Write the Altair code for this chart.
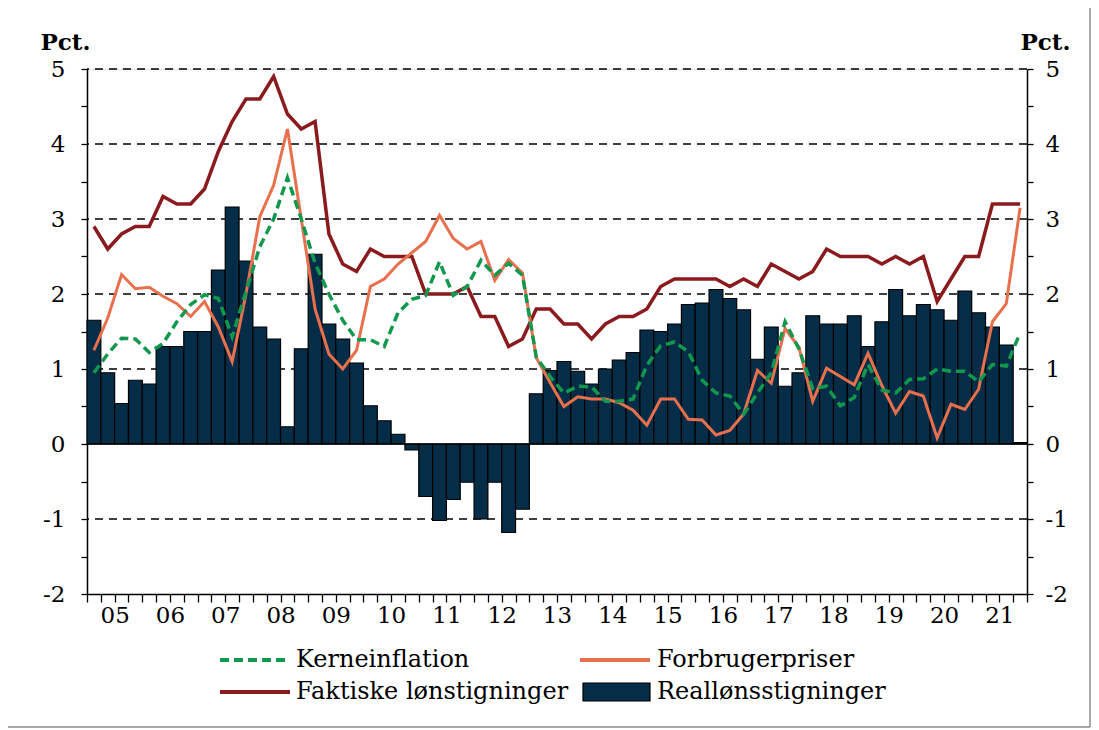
import altair as alt
import pandas as pd

# ---------------- data (2005Q1 - 2021Q4, quarterly) ----------------
years = ["05", "06", "07", "08", "09", "10", "11", "12", "13",
         "14", "15", "16", "17", "18", "19", "20", "21"]

reallon = [1.65, 0.95, 0.54, 0.85, 0.80, 1.30, 1.30, 1.50, 1.50, 2.32, 3.16, 2.44,
           1.56, 1.40, 0.23, 1.27, 2.53, 1.60, 1.40, 1.08, 0.51, 0.31, 0.13, -0.08,
           -0.70, -1.02, -0.74, -0.51, -1.00, -0.51, -1.18, -0.87, 0.67, 0.98, 1.10, 0.97,
           0.80, 1.00, 1.12, 1.22, 1.52, 1.50, 1.60, 1.86, 1.88, 2.06, 1.94, 1.79,
           1.13, 1.56, 0.77, 0.95, 1.71, 1.60, 1.60, 1.71, 1.30, 1.63, 2.06, 1.71,
           1.86, 1.79, 1.65, 2.04, 1.75, 1.56, 1.32, 0.02]

faktiske = [2.9, 2.6, 2.8, 2.9, 2.9, 3.3, 3.2, 3.2, 3.4, 3.9, 4.3, 4.6,
            4.6, 4.9, 4.4, 4.2, 4.3, 2.8, 2.4, 2.3, 2.6, 2.5, 2.5, 2.5,
            2.0, 2.0, 2.0, 2.1, 1.7, 1.7, 1.3, 1.4, 1.8, 1.8, 1.6, 1.6,
            1.4, 1.6, 1.7, 1.7, 1.8, 2.1, 2.2, 2.2, 2.2, 2.2, 2.1, 2.2,
            2.1, 2.4, 2.3, 2.2, 2.3, 2.6, 2.5, 2.5, 2.5, 2.4, 2.5, 2.4,
            2.5, 1.9, 2.2, 2.5, 2.5, 3.2, 3.2, 3.2]

forbruger = [1.25, 1.68, 2.26, 2.07, 2.09, 1.97, 1.87, 1.70, 1.90, 1.56, 1.10, 2.00,
             3.03, 3.45, 4.20, 3.00, 1.80, 1.20, 1.00, 1.25, 2.10, 2.20, 2.40, 2.55,
             2.70, 3.05, 2.74, 2.60, 2.70, 2.18, 2.46, 2.28, 1.15, 0.82, 0.50, 0.63,
             0.60, 0.60, 0.55, 0.45, 0.25, 0.60, 0.60, 0.33, 0.32, 0.12, 0.18, 0.40,
             0.98, 0.81, 1.54, 1.29, 0.57, 1.01, 0.90, 0.79, 1.21, 0.78, 0.41, 0.70,
             0.64, 0.08, 0.53, 0.46, 0.73, 1.63, 1.87, 3.15]

kerne = [0.95, 1.20, 1.41, 1.40, 1.22, 1.34, 1.63, 1.86, 1.99, 1.94, 1.43, 2.03,
         2.63, 3.00, 3.55, 3.00, 2.41, 2.00, 1.65, 1.39, 1.39, 1.30, 1.75, 1.93,
         1.98, 2.43, 1.98, 2.10, 2.45, 2.25, 2.41, 2.25, 1.16, 0.90, 0.68, 0.77,
         0.76, 0.57, 0.57, 0.60, 1.05, 1.31, 1.36, 1.23, 0.85, 0.68, 0.64, 0.40,
         0.68, 0.95, 1.63, 1.27, 0.74, 0.77, 0.51, 0.62, 1.06, 0.72, 0.68, 0.86,
         0.87, 1.00, 0.97, 0.97, 0.83, 1.06, 1.04, 1.48]

grid_values = [-1, 1, 2, 3, 4, 5]
y_tick_values = [-2 + 0.5 * k for k in range(15)]
legend_labels = ["Kerneinflation", "Forbrugerpriser",
                 "Faktiske lønstigninger", "Reallønsstigninger"]

# ---------------- styling ----------------
FONT = "DejaVu Serif"
FS = 23
LFS = 24
W, H = 940, 525
RED = "#8B1A1E"
ORANGE = "#E8704C"
GREEN = "#12984E"
NAVY = "#062D48"

n = len(reallon)
df = pd.DataFrame({
    "q": list(range(n)),
    "q_end": [i + 1 for i in range(n)],
    "q_mid": [i + 0.5 for i in range(n)],
    "real": reallon,
    "faktiske": faktiske,
    "forbruger": forbruger,
    "kerne": kerne,
})

xscale = alt.Scale(domain=[0, n], nice=False, zero=False)
yscale = alt.Scale(domain=[-2, 5], nice=False, zero=False)

years_js = "[" + ",".join("'" + y + "'" for y in years) + "]"
x_axis = alt.Axis(
    values=list(range(n + 1)),
    labelExpr=f"datum.value % 4 == 2 ? {years_js}[floor(datum.value / 4)] : ''",
    tickSize=8, tickWidth=1.3, tickColor="black",
    domainColor="black", domainWidth=1.5,
    labelFont=FONT, labelFontSize=FS, labelColor="black",
    labelOverlap=False, labelFlush=False, labelPadding=2,
    grid=False, title=None,
)

y_label_expr = "datum.value % 1 == 0 ? '' + datum.value : ''"
y_left = alt.Axis(
    values=y_tick_values, labelExpr=y_label_expr,
    tickSize=6, tickWidth=1.3, tickColor="black",
    domainColor="black", domainWidth=1.5,
    labelFont=FONT, labelFontSize=FS, labelColor="black",
    labelPadding=16, labelOverlap=False, labelFlush=False,
    grid=False,
    title="Pct.", titleAngle=0, titleFont=FONT, titleFontSize=FS,
    titleFontWeight="bold", titleColor="black", titleAlign="left",
    titleBaseline="alphabetic", titleX=-47, titleY=-20,
)
y_right = alt.Axis(
    orient="right",
    values=y_tick_values, labelExpr=y_label_expr,
    tickSize=6, tickWidth=1.3, tickColor="black",
    domainColor="black", domainWidth=1.5,
    labelFont=FONT, labelFontSize=FS, labelColor="black",
    labelPadding=12, labelOverlap=False, labelFlush=False,
    grid=False,
    title="Pct.", titleAngle=0, titleFont=FONT, titleFontSize=FS,
    titleFontWeight="bold", titleColor="black", titleAlign="left",
    titleBaseline="alphabetic", titleX=-7, titleY=-20,
)

grid = alt.Chart(pd.DataFrame({"g": grid_values})).mark_rule(
    color="black", strokeWidth=1.3, strokeDash=[8, 6]
).encode(y=alt.Y("g:Q", scale=yscale, axis=y_right))

bars = alt.Chart(df).mark_bar(color=NAVY, stroke="black", strokeWidth=1.2).encode(
    x=alt.X("q:Q", scale=xscale, axis=x_axis),
    x2="q_end:Q",
    y=alt.Y("real:Q", scale=yscale, axis=y_left),
    y2=alt.datum(0),
)

zero = alt.Chart(pd.DataFrame({"z": [0]})).mark_rule(
    color="black", strokeWidth=1.5
).encode(y=alt.Y("z:Q", scale=yscale, axis=None))


def series_line(col, color, width, dash=None):
    kw = dict(color=color, strokeWidth=width, strokeJoin="miter")
    if dash is not None:
        kw["strokeDash"] = dash
    return alt.Chart(df).mark_line(**kw).encode(
        x=alt.X("q_mid:Q", scale=xscale, axis=x_axis),
        y=alt.Y(f"{col}:Q", scale=yscale, axis=None),
    )


red_line = series_line("faktiske", RED, 3.5)
orange_line = series_line("forbruger", ORANGE, 3)
green_line = series_line("kerne", GREEN, 3.5, [9, 5])

# ---------------- legend (drawn below the plot) ----------------
r1, r2 = 591, 623
c1s, c1e, c1t = 133, 203, 209
c2s, c2e, c2t = 493, 563, 570


def leg_rule(color, width, y, xs, xe, dash=None):
    kw = dict(color=color, strokeWidth=width)
    if dash is not None:
        kw["strokeDash"] = dash
    return alt.Chart(pd.DataFrame({"a": [0]})).mark_rule(**kw).encode(
        x=alt.value(xs), x2=alt.value(xe), y=alt.value(y))


def leg_text(label, x, y):
    return alt.Chart(pd.DataFrame({"t": [label]})).mark_text(
        font=FONT, fontSize=LFS, color="black", align="left", baseline="middle"
    ).encode(x=alt.value(x), y=alt.value(y), text="t:N")


leg = [
    leg_rule(GREEN, 4, r1, c1s, c1e, [9, 5]),
    leg_text(legend_labels[0], c1t, r1),
    leg_rule(ORANGE, 4, r1, c2s, c2e),
    leg_text(legend_labels[1], c2t, r1),
    leg_rule(RED, 4, r2, c1s, c1e),
    leg_text(legend_labels[2], c1t, r2),
    alt.Chart(pd.DataFrame({"a": [0]})).mark_rect(
        color=NAVY, stroke="black", strokeWidth=1.2
    ).encode(x=alt.value(c2s + 3), x2=alt.value(c2e), y=alt.value(r2 - 9), y2=alt.value(r2 + 9)),
    leg_text(legend_labels[3], c2t, r2),
]

# figure border lines (right and bottom)
border_r = alt.Chart(pd.DataFrame({"a": [0]})).mark_rule(color="#555555", strokeWidth=1).encode(
    x=alt.value(1003), y=alt.value(-61), y2=alt.value(658))
border_b = alt.Chart(pd.DataFrame({"a": [0]})).mark_rule(color="#555555", strokeWidth=1).encode(
    x=alt.value(-79), x2=alt.value(1003), y=alt.value(658))

chart = alt.layer(
    grid, bars, zero, red_line, orange_line, green_line, *leg, border_r, border_b
).resolve_axis(y="independent").properties(
    width=W, height=H,
    autosize=alt.AutoSizeParams(type="none"),
    padding={"left": 79, "top": 61, "right": 64, "bottom": 134},
).configure_view(stroke=None).configure(background="white")

chart.save("out.html", embed_options={"renderer": "svg", "actions": False})
